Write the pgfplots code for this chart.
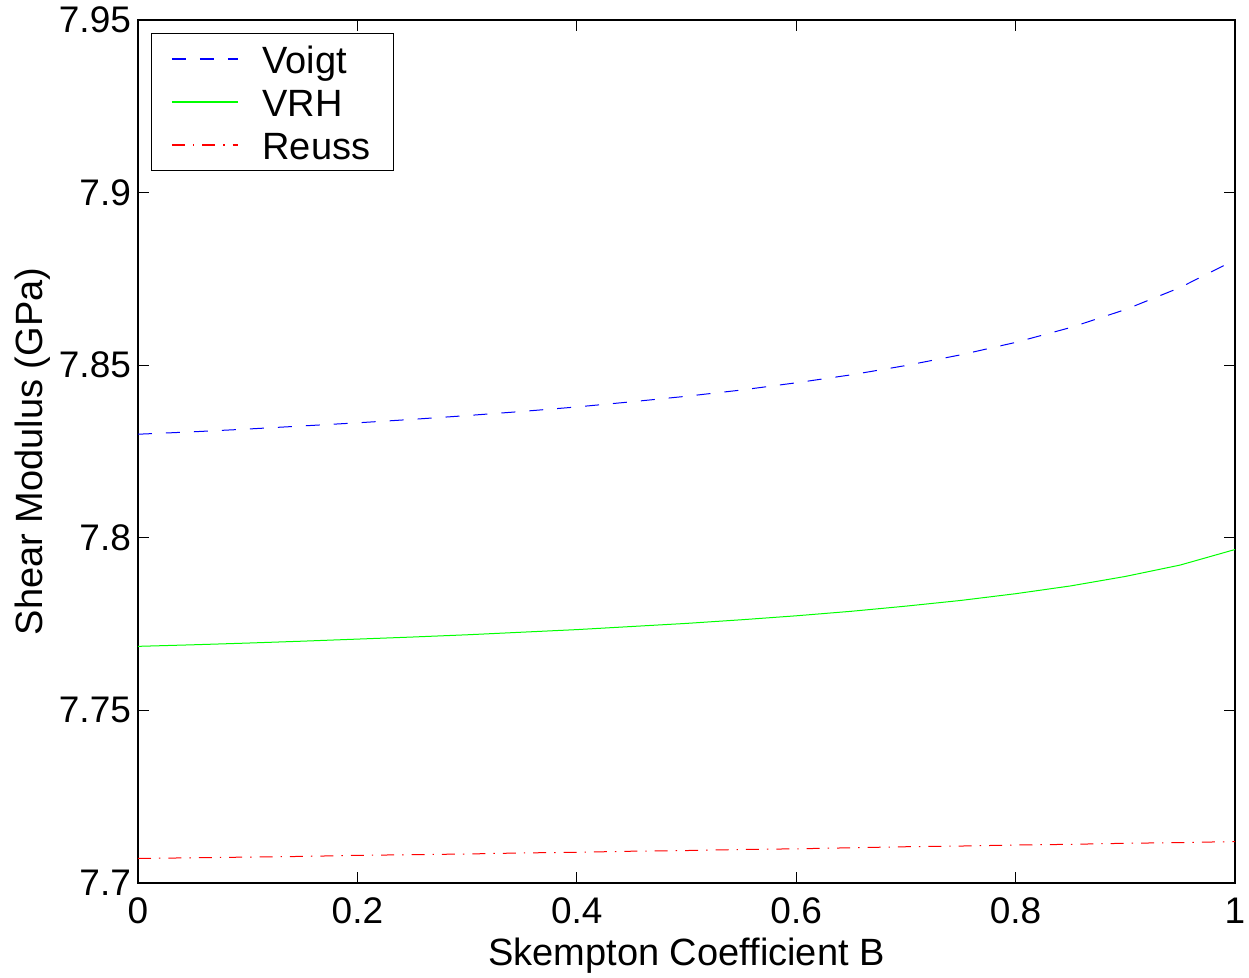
\documentclass[border=0pt]{standalone}
\usepackage{pgfplots}
\pgfplotsset{compat=1.18}
\usepackage{fontspec}
\setmainfont{Liberation Sans}
\newcommand{\lstrut}{\rule[-5pt]{0pt}{21pt}}
\begin{document}
\begin{tikzpicture}
\begin{axis}[
  scale only axis,
  width=548.5pt, height=431.5pt,
  xmin=0, xmax=1, ymin=7.7, ymax=7.95,
  xtick={0,0.2,0.4,0.6,0.8,1},
  ytick={7.7,7.75,7.8,7.85,7.9,7.95},
  scaled ticks=false,
  yticklabel style={/pgf/number format/.cd, fixed, precision=2},
  xticklabel style={yshift=-4pt},
  /pgf/number format/assume math mode=true,
  tick align=inside,
  major tick length=5.5pt,
  tick style={black, line width=0.5pt},
  axis line style={line width=0.6pt},
  font=\fontsize{19}{22}\selectfont,
  ticklabel style={font=\fontsize{18.5}{21}\selectfont},
  xlabel={Skempton Coefficient B},
  ylabel={Shear Modulus (GPa)},
  xlabel style={yshift=0pt},
  ylabel style={yshift=-2.5pt},
  legend cell align=left,
  legend style={at={(0,1)}, anchor=north west, xshift=6.5pt, yshift=-6.5pt,
    draw=black, line width=0.6pt, inner xsep=9.75pt, inner ysep=2pt,
    font=\fontsize{19}{22}\selectfont, column sep=10pt},
  legend image code/.code={\draw[#1, line width=0.7pt] (0pt,0pt) -- (33pt,0pt);},
]
\addplot[blue, line width=0.5pt, dash pattern=on 7pt off 7pt] coordinates {
(0,7.8300) (0.05,7.8307) (0.1,7.8315) (0.15,7.8324) (0.2,7.8333) (0.25,7.8343)
(0.3,7.8354) (0.35,7.8366) (0.4,7.8379) (0.45,7.8394) (0.5,7.8410) (0.55,7.8428)
(0.6,7.8449) (0.65,7.8472) (0.7,7.8499) (0.75,7.8530) (0.8,7.8566) (0.85,7.8609)
(0.9,7.8661) (0.95,7.8725) (1.0,7.8805)};
\addlegendentry{\lstrut Voigt}
\addplot[green, line width=0.5pt] coordinates {
(0,7.76855) (0.05,7.7690) (0.1,7.7695) (0.15,7.77005) (0.2,7.77065) (0.25,7.77125)
(0.3,7.7719) (0.35,7.77265) (0.4,7.7734) (0.45,7.7743) (0.5,7.7752) (0.55,7.77625)
(0.6,7.7774) (0.65,7.7787) (0.7,7.7802) (0.75,7.78185) (0.8,7.7838) (0.85,7.78605)
(0.9,7.7888) (0.95,7.7921) (1.0,7.7966)};
\addlegendentry{\lstrut VRH}
\addplot[red, line width=0.5pt, dash pattern=on 6.5pt off 4pt on 0.7pt off 4pt] coordinates {
(0,7.7071) (0.05,7.7073) (0.1,7.7075) (0.15,7.7077) (0.2,7.7080) (0.25,7.7082)
(0.3,7.7084) (0.35,7.7087) (0.4,7.7089) (0.45,7.7092) (0.5,7.7094) (0.55,7.7097)
(0.6,7.7099) (0.65,7.7102) (0.7,7.7105) (0.75,7.7107) (0.8,7.7110) (0.85,7.7112)
(0.9,7.7115) (0.95,7.7117) (1.0,7.7120)};
\addlegendentry{\lstrut Reuss}
\end{axis}
\pgfresetboundingbox
\path ([shift={(-69pt,-47.5pt)}]current axis.south west) rectangle ([shift={(7pt,10pt)}]current axis.north east);
\end{tikzpicture}
\end{document}
